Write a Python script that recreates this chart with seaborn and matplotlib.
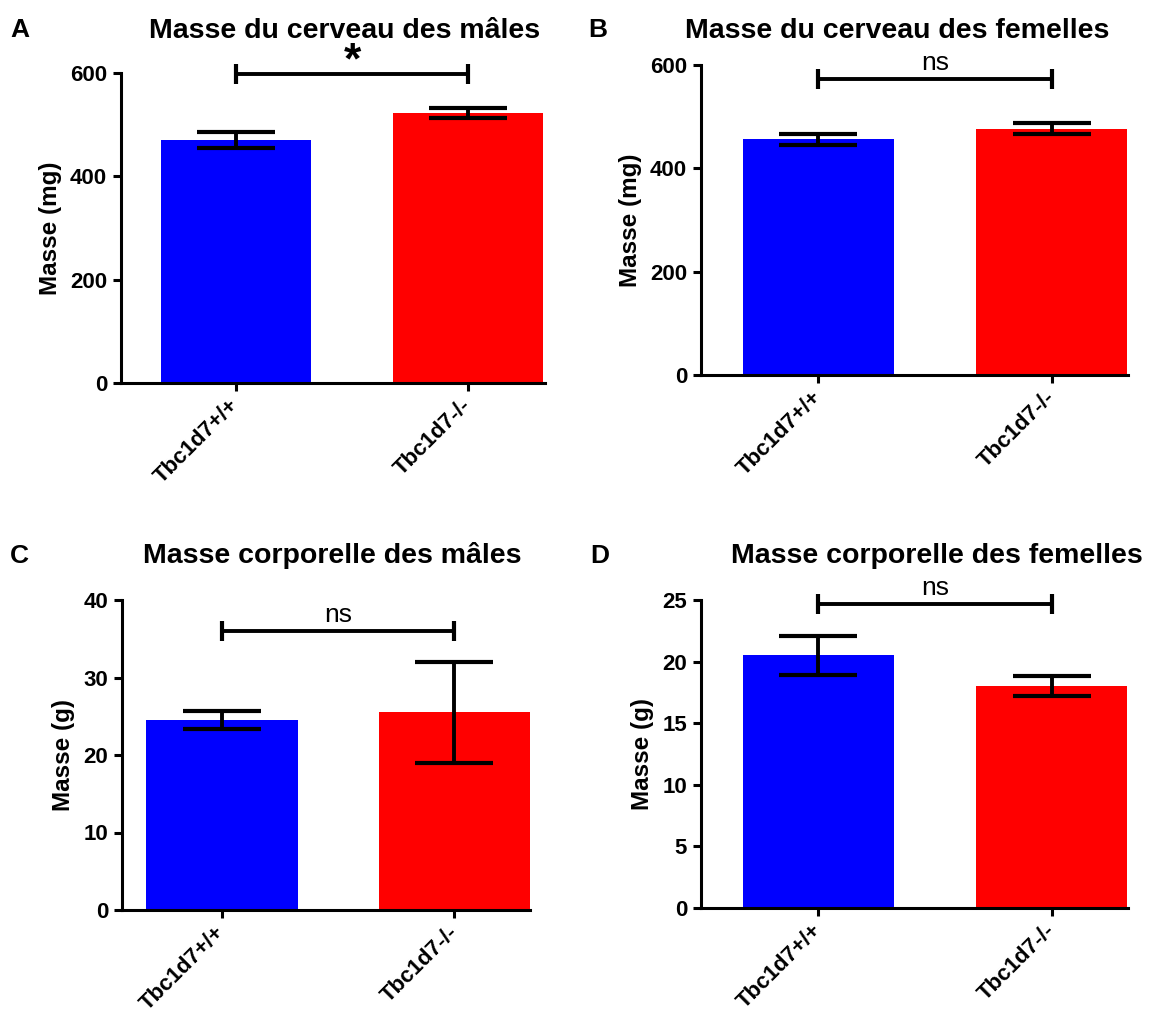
import matplotlib
matplotlib.use("Agg")
import matplotlib.pyplot as plt
import seaborn as sns
import pandas as pd

sns.set_theme(style="ticks")
plt.rcParams["font.family"] = ["Liberation Sans", "DejaVu Sans"]
plt.rcParams.update({"text.color": "black", "axes.labelcolor": "black",
                     "xtick.color": "black", "ytick.color": "black"})

genotypes = ["Tbc1d7+/+", "Tbc1d7-/-"]
bar_colors = ["#0000FF", "#FF0000"]

brain_males = [470, 523]
brain_males_sem = [15, 10]
brain_females = [456, 477]
brain_females_sem = [11, 10]
body_males = [24.5, 25.5]
body_males_sem = [1.2, 6.5]
body_females = [20.5, 18.0]
body_females_sem = [1.55, 0.8]

panels = [
    dict(letter="A", title="Masse du cerveau des mâles", ylabel="Masse (mg)",
         means=brain_males, sem=brain_males_sem, ymax=600, step=200,
         sig="*", sig_y=598,
         rect=[121, 73, 545, 383], xlim=(-0.496, 1.332),
         title_x=345, title_base=38, letter_xy=(10, 37)),
    dict(letter="B", title="Masse du cerveau des femelles", ylabel="Masse (mg)",
         means=brain_females, sem=brain_females_sem, ymax=600, step=200,
         sig="ns", sig_y=573,
         rect=[701, 65, 1128, 375], xlim=(-0.504, 1.328),
         title_x=897, title_base=38, letter_xy=(588, 37)),
    dict(letter="C", title="Masse corporelle des mâles", ylabel="Masse (g)",
         means=body_males, sem=body_males_sem, ymax=40, step=10,
         sig="ns", sig_y=36,
         rect=[122, 600, 530, 910], xlim=(-0.43, 1.325),
         title_x=332, title_base=563, letter_xy=(10, 563)),
    dict(letter="D", title="Masse corporelle des femelles", ylabel="Masse (g)",
         means=body_females, sem=body_females_sem, ymax=25, step=5,
         sig="ns", sig_y=24.7,
         rect=[701, 600, 1128, 908], xlim=(-0.504, 1.328),
         title_x=937, title_base=563, letter_xy=(590, 563)),
]

W, H = 1167, 1018
fig = plt.figure(figsize=(W / 100, H / 100), dpi=100)

for p in panels:
    l, t, r, b = p["rect"]
    ax = fig.add_axes([l / W, (H - b) / H, (r - l) / W, (b - t) / H])
    df = pd.DataFrame({"genotype": genotypes, "mass": p["means"]})
    sns.barplot(data=df, x="genotype", y="mass", hue="genotype",
                palette=bar_colors, width=0.65, errorbar=None,
                legend=False, ax=ax, saturation=1, edgecolor="none")
    ax.errorbar([0, 1], p["means"], yerr=p["sem"], fmt="none",
                ecolor="black", elinewidth=2.8, capsize=28, capthick=3.0,
                zorder=5)
    ax.set_xlim(*p["xlim"])
    ax.set_ylim(0, p["ymax"])
    ax.set_yticks(range(0, p["ymax"] + 1, p["step"]))
    sns.despine(ax=ax)
    for s in ["left", "bottom"]:
        ax.spines[s].set_linewidth(2.2)
        ax.spines[s].set_color("black")
    ax.tick_params(axis="both", length=6, width=2.2, color="black",
                   labelsize=16, pad=4)
    for lab in ax.get_yticklabels():
        lab.set_fontweight("bold")
    ax.set_xticks([0, 1])
    ax.set_xticklabels(genotypes, rotation=45, ha="right", va="center",
                       rotation_mode="anchor", fontweight="bold", fontsize=16)
    ax.tick_params(axis="x", pad=8)
    ax.set_xlabel("")
    ax.set_ylabel(p["ylabel"], fontsize=17.5, fontweight="bold", labelpad=6)

    # significance bracket
    ax.plot([0, 1], [p["sig_y"]] * 2, color="black", lw=2.8,
            marker="|", markersize=15, mew=3.0, clip_on=False, zorder=6)
    if p["sig"] == "*":
        ax.annotate("*", xy=(0.5, p["sig_y"]), xytext=(0, -6),
                    textcoords="offset points", ha="center", va="bottom",
                    fontsize=32, fontweight="bold", annotation_clip=False)
    else:
        ax.annotate("ns", xy=(0.5, p["sig_y"]), xytext=(0, 3),
                    textcoords="offset points", ha="center", va="bottom",
                    fontsize=19, annotation_clip=False)

    fig.text(p["title_x"] / W, 1 - p["title_base"] / H, p["title"],
             ha="center", va="baseline", fontsize=20.5, fontweight="bold")
    fig.text(p["letter_xy"][0] / W, 1 - p["letter_xy"][1] / H, p["letter"],
             ha="left", va="baseline", fontsize=19, fontweight="bold")

fig.savefig("out.png", dpi=100, facecolor="white")
